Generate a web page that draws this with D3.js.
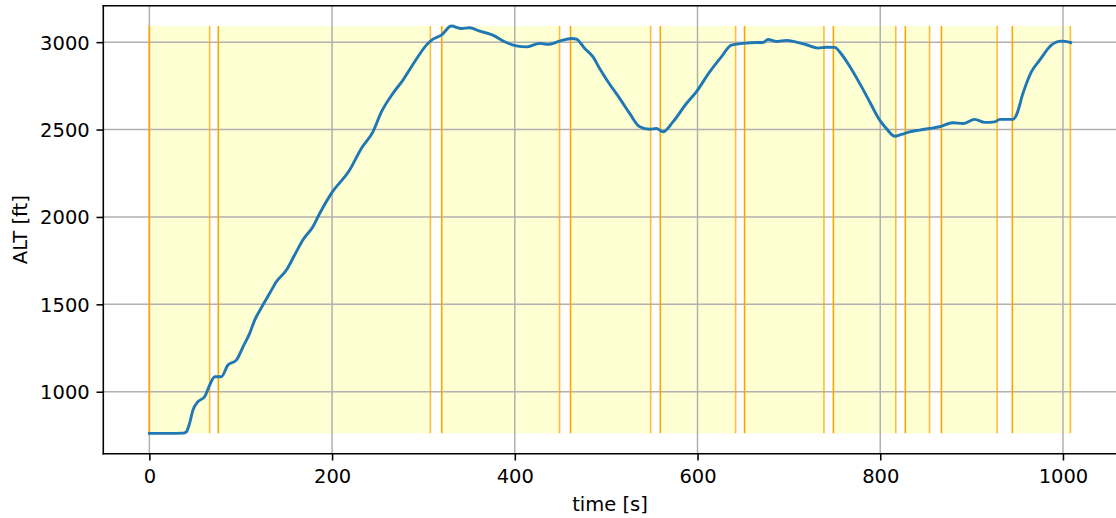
<!DOCTYPE html>
<html>
  <head>
    <meta charset="utf-8">
    <script src="https://cdn.jsdelivr.net/npm/d3@7"></script>
    <style type="text/css">
    body {
      margin: 0;
      background: white;
    }
    svg {
      display: block;
      font-family: "DejaVu Sans", sans-serif;
    }
    .axis text {
      fill: black;
      font-family: "DejaVu Sans", sans-serif;
      font-size: 19.5px;
    }
    .axis path {
      display: none;
    }
    .axis line {
      stroke: black;
      stroke-width: 1.56px;
    }
    .grid line {
      stroke: #b0b0b0;
      stroke-width: 1.5px;
    }
    </style>
  </head>
  <body>
    <script type="text/javascript">
      // flight altitude trace
      var timeS = [0, 20, 36.8, 40.5, 44, 47.7, 53.2, 60.5, 66, 71.5, 78.8, 86, 95.2, 102.5, 109.8, 115.3,
                   124.3, 131.7, 139, 150, 159, 168, 179, 186.4, 199.2, 219.2, 232, 244.7, 254, 266.6,
                   277.6, 290.4, 303.2, 310.4, 319.6, 330.6, 341.5, 350.6, 361.5, 376, 388.9, 401.7,
                   412.7, 427.2, 436.3, 449.1, 461.9, 467.4, 476.5, 485.6, 492.9, 502, 514.8, 525.7,
                   536.7, 547.6, 554.9, 562.2, 573.1, 587.8, 598.7, 613.3, 626.1, 637, 649.7, 664.4,
                   671.6, 677.1, 686.3, 697.2, 708.2, 719.1, 731.8, 741, 750.1, 757.4, 766.5, 777.5,
                   788.4, 799.4, 806.7, 815.8, 823.1, 832.2, 843.1, 854.1, 865, 879.6, 890.6, 903.4,
                   914.3, 925.3, 930.7, 945.3, 949, 956.2, 965.4, 974.5, 987.3, 998.3, 1008.4];
      var altFt = [762, 762, 763, 771, 819, 895, 943, 971, 1038, 1086, 1086, 1153, 1181, 1257, 1334, 1410,
                   1496, 1563, 1629, 1696, 1782, 1868, 1944, 2020, 2135, 2268, 2392, 2487, 2601, 2707,
                   2783, 2888, 2983, 3017, 3040, 3092, 3078, 3082, 3063, 3040, 3002, 2979,
                   2973, 2993, 2987, 3006, 3021, 3017, 2964, 2916, 2849, 2773, 2678, 2592,
                   2516, 2502, 2506, 2487, 2544, 2649, 2716, 2830, 2916, 2983, 2993, 2998,
                   2998, 3015, 3004, 3010, 3000, 2985, 2966, 2971, 2970, 2932, 2862, 2764,
                   2659, 2554, 2506, 2462, 2472, 2487, 2497, 2506, 2516, 2539, 2535, 2558,
                   2541, 2544, 2558, 2558, 2583, 2707, 2830, 2897, 2983, 3006, 2998];

      // flight phases (shaded), in seconds
      var phaseStart = [0, 75.5, 320, 461, 559.3, 651.5, 748.7, 827.5, 867, 944.6];
      var phaseEnd   = [66, 307.6, 449, 548.7, 641.7, 738.4, 817, 854, 928, 1008.1];

      var xTicks = [0, 200, 400, 600, 800, 1000];
      var yTicks = [1000, 1500, 2000, 2500, 3000];

      var w = 1116;
      var h = 518;
      var mLeft = 103.3, mTop = 5.7, mBottom = 453.7, mRight = 1116.7;

      var svg = d3.select("body")
                  .append("svg")
                  .attr("width", w)
                  .attr("height", h);

      // scales (matplotlib style 5% margins)
      var tMin = d3.min(timeS), tMax = d3.max(timeS.concat(phaseEnd));
      var aMin = d3.min(altFt), aMax = d3.max(altFt);
      var tPad = (tMax - tMin) * 0.05, aPad = (aMax - aMin) * 0.05;

      var xScale = d3.scaleLinear()
                     .domain([tMin - tPad, tMax + tPad])
                     .range([mLeft, mRight]);
      var yScale = d3.scaleLinear()
                     .domain([aMin - aPad, aMax + aPad])
                     .range([mBottom, mTop]);

      // yellow phase spans
      var phases = phaseStart.map(function(s, i) { return {start: s, end: phaseEnd[i]}; });
      svg.selectAll(".span")
         .data(phases)
         .enter()
         .append("rect")
           .attr("class", "span")
           .attr("x", function(d) { return xScale(d.start); })
           .attr("y", yScale(aMax))
           .attr("width", function(d) { return xScale(d.end) - xScale(d.start); })
           .attr("height", yScale(aMin) - yScale(aMax))
           .attr("fill", "#ffffd4");

      // grid
      svg.append("g")
         .attr("class", "grid")
         .selectAll("line")
         .data(xTicks)
         .enter()
         .append("line")
           .attr("x1", function(d) { return xScale(d); })
           .attr("x2", function(d) { return xScale(d); })
           .attr("y1", mTop)
           .attr("y2", mBottom);
      svg.append("g")
         .attr("class", "grid")
         .selectAll("line")
         .data(yTicks)
         .enter()
         .append("line")
           .attr("x1", mLeft)
           .attr("x2", mRight)
           .attr("y1", function(d) { return yScale(d); })
           .attr("y2", function(d) { return yScale(d); });

      // orange phase boundaries
      var bounds = [];
      phases.forEach(function(p) { bounds.push(p.start, p.end); });
      svg.selectAll(".bound")
         .data(bounds)
         .enter()
         .append("line")
           .attr("class", "bound")
           .attr("x1", function(d) { return xScale(d); })
           .attr("x2", function(d) { return xScale(d); })
           .attr("y1", yScale(aMax))
           .attr("y2", yScale(aMin))
           .attr("stroke", "orange")
           .attr("stroke-opacity", function(d, i) { return i % 2 ? 0.75 : 1; })
           .attr("stroke-width", 1.6);

      // altitude line
      var line = d3.line()
                   .x(function(d, i) { return xScale(timeS[i]); })
                   .y(function(d) { return yScale(d); })
                   .curve(d3.curveMonotoneX);
      svg.append("path")
         .datum(altFt)
         .attr("d", line)
         .attr("fill", "none")
         .attr("stroke", "#1f77b4")
         .attr("stroke-width", 2.9)
         .attr("stroke-linejoin", "round")
         .attr("stroke-linecap", "square");

      // axes
      var xAxis = d3.axisBottom(xScale).tickValues(xTicks).tickFormat(d3.format("d"))
                    .tickSize(6.8).tickPadding(8.2);
      var yAxis = d3.axisLeft(yScale).tickValues(yTicks).tickFormat(d3.format("d"))
                    .tickSize(6.8).tickPadding(6.8);

      svg.append("g")
         .attr("class", "axis")
         .attr("transform", "translate(0," + mBottom + ")")
         .call(xAxis);
      svg.append("g")
         .attr("class", "axis")
         .attr("transform", "translate(" + mLeft + ",0)")
         .call(yAxis)
         .selectAll("text")
           .attr("dy", "0.36em");

      // spines (right one falls outside the picture)
      var spine = svg.append("g")
                     .attr("stroke", "black")
                     .attr("stroke-width", 1.56)
                     .attr("stroke-linecap", "square");
      spine.append("line").attr("x1", mLeft).attr("x2", mLeft).attr("y1", mTop).attr("y2", mBottom);
      spine.append("line").attr("x1", mLeft).attr("x2", mRight + 2).attr("y1", mTop).attr("y2", mTop);
      spine.append("line").attr("x1", mLeft).attr("x2", mRight + 2).attr("y1", mBottom).attr("y2", mBottom);

      // axis labels
      svg.append("text")
         .attr("x", (mLeft + mRight) / 2)
         .attr("y", 510.5)
         .attr("text-anchor", "middle")
         .style("font-size", "19.5px")
         .text("time [s]");
      svg.append("text")
         .attr("transform", "rotate(-90)")
         .attr("x", -(mTop + mBottom) / 2)
         .attr("y", 27)
         .attr("text-anchor", "middle")
         .style("font-size", "19.5px")
         .text("ALT [ft]");
    </script>
  </body>
</html>
